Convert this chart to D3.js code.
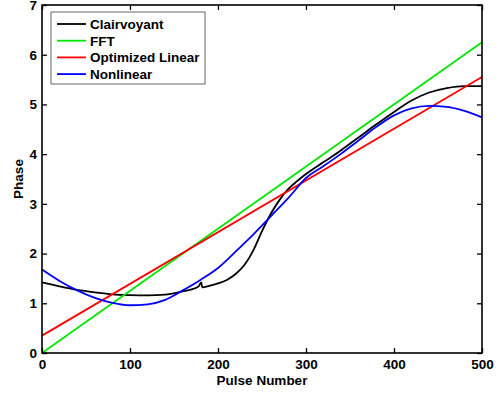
<!DOCTYPE html>
<html>
<head>
<meta charset="utf-8">
<script src="https://cdn.jsdelivr.net/npm/d3@7"></script>
<style>
  html, body { margin: 0; padding: 0; background: #fff; }
  svg { display: block; font-family: "Liberation Sans", Arial, sans-serif; font-weight: bold; }
</style>
</head>
<body>
<div id="chart"></div>
<script>
// data
const pulseX = [0, 500];
const fftY = [0, 6.25];
const linearY = [0.35, 5.55];

const clairX = [0, 20, 40, 60, 80, 100, 120, 140, 160, 170, 178, 181, 182, 190, 200, 210, 220, 230, 240, 250, 260, 270, 280, 290, 300, 320, 340, 360, 380, 400, 420, 440, 460, 480, 500];
const clairY = [1.42, 1.34, 1.27, 1.22, 1.18, 1.165, 1.16, 1.175, 1.24, 1.28, 1.34, 1.42, 1.32, 1.35, 1.40, 1.47, 1.59, 1.77, 2.06, 2.45, 2.8, 3.08, 3.3, 3.46, 3.6, 3.84, 4.08, 4.34, 4.6, 4.85, 5.08, 5.24, 5.33, 5.37, 5.37];

const nonlinX = [0, 20, 40, 60, 80, 100, 120, 140, 160, 180, 200, 220, 240, 260, 280, 300, 320, 340, 360, 380, 400, 420, 440, 460, 480, 500];
const nonlinY = [1.68, 1.45, 1.26, 1.11, 1.01, 0.96, 0.98, 1.07, 1.26, 1.47, 1.71, 2.04, 2.38, 2.75, 3.12, 3.52, 3.76, 4.01, 4.28, 4.55, 4.78, 4.92, 4.97, 4.95, 4.87, 4.74];

const xTicks = [0, 100, 200, 300, 400, 500];
const yTicks = [0, 1, 2, 3, 4, 5, 6, 7];

const seriesNames = ["Clairvoyant", "FFT", "Optimized Linear", "Nonlinear"];
const seriesColors = ["#000000", "#00e600", "#ff0000", "#0000ff"];

const width = 501, height = 394;
const margin = {top: 5, right: 19, bottom: 41, left: 42};
const fontSize = "13.5px";

const svg = d3.select("#chart").append("svg")
  .attr("width", width)
  .attr("height", height);

const x = d3.scaleLinear()
  .domain([0, 500])
  .range([margin.left, width - margin.right]);

const y = d3.scaleLinear()
  .domain([0, 7])
  .range([height - margin.bottom, margin.top]);

const zip = (xs, ys) => xs.map((v, i) => [v, ys[i]]);

const series = [
  zip(clairX, clairY),
  zip(pulseX, fftY),
  zip(pulseX, linearY),
  zip(nonlinX, nonlinY)
];

const line = d3.line()
  .x(d => x(d[0]))
  .y(d => y(d[1]))
  .curve(d3.curveMonotoneX);

svg.append("g")
  .selectAll("path")
  .data(series)
  .enter().append("path")
    .attr("fill", "none")
    .attr("stroke", (d, i) => seriesColors[i])
    .attr("stroke-width", 1.8)
    .attr("d", line);

// axes, matlab style: ticks inside on all four sides
const tickLen = 5;
const styleAxis = g => {
  g.select(".domain").remove();
  g.selectAll(".tick line").attr("stroke", "#000").attr("stroke-width", 1.3);
  g.selectAll(".tick text")
    .attr("fill", "#000")
    .style("font-size", fontSize)
    .style("font-weight", "bold")
    .style("font-family", "'Liberation Sans', Arial, sans-serif");
};

svg.append("g")
    .attr("transform", `translate(0,${y(0)})`)
    .call(d3.axisBottom(x).tickValues(xTicks).tickSize(-tickLen).tickPadding(6).tickFormat(d3.format("d")))
    .call(styleAxis);

svg.append("g")
    .attr("transform", `translate(0,${y(7)})`)
    .call(d3.axisTop(x).tickValues(xTicks).tickSize(-tickLen).tickFormat(""))
    .call(styleAxis);

svg.append("g")
    .attr("transform", `translate(${x(0)},0)`)
    .call(d3.axisLeft(y).tickValues(yTicks).tickSize(-tickLen).tickPadding(5).tickFormat(d3.format("d")))
    .call(styleAxis);

svg.append("g")
    .attr("transform", `translate(${x(500)},0)`)
    .call(d3.axisRight(y).tickValues(yTicks).tickSize(-tickLen).tickFormat(""))
    .call(styleAxis);

svg.append("rect")
  .attr("x", x(0))
  .attr("y", y(7))
  .attr("width", x(500) - x(0))
  .attr("height", y(0) - y(7))
  .attr("fill", "none")
  .attr("stroke", "#000")
  .attr("stroke-width", 1.6);

// axis titles
svg.append("text")
  .attr("x", (x(0) + x(500)) / 2)
  .attr("y", 385)
  .attr("text-anchor", "middle")
  .style("font-size", fontSize)
  .text("Pulse Number");

svg.append("text")
  .attr("transform", `translate(23,${(y(0) + y(7)) / 2}) rotate(-90)`)
  .attr("text-anchor", "middle")
  .style("font-size", fontSize)
  .text("Phase");

// legend
const legend = svg.append("g").attr("transform", "translate(51,12)");

legend.append("rect")
  .attr("width", 154)
  .attr("height", 72)
  .attr("fill", "#fff")
  .attr("stroke", "#666")
  .attr("stroke-width", 1);

const item = legend.selectAll("g.item")
  .data(seriesNames)
  .enter().append("g")
    .attr("class", "item")
    .attr("transform", (d, i) => `translate(0,${12 + i * 16.7})`);

item.append("line")
  .attr("x1", 6)
  .attr("x2", 35)
  .attr("stroke", (d, i) => seriesColors[i])
  .attr("stroke-width", 1.8);

item.append("text")
  .attr("x", 39)
  .attr("dy", "0.36em")
  .style("font-size", fontSize)
  .text(d => d);
</script>
</body>
</html>
